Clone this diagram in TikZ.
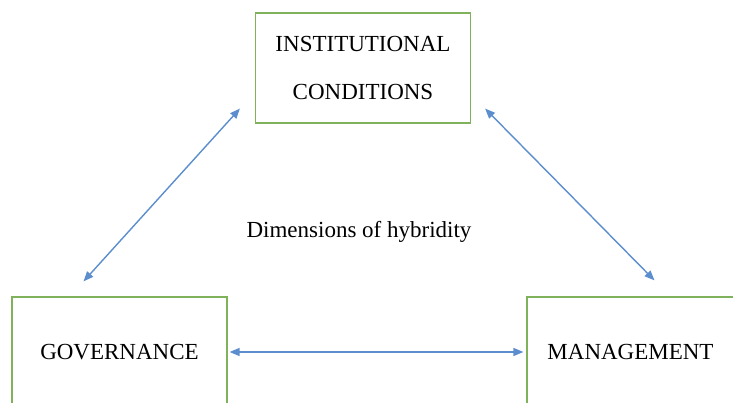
\documentclass[tikz,border=0pt]{standalone}
\usepackage{fontspec}
\setmainfont{Liberation Serif}
\usetikzlibrary{arrows.meta}
\definecolor{boxgreen}{RGB}{128,178,92}
\definecolor{linkblue}{RGB}{92,142,206}
\tikzset{dimbox/.style={draw=boxgreen, line width=1.2pt, minimum width=215pt,
    minimum height=110pt, align=center, inner sep=0pt,
    font=\fontsize{23}{48}\selectfont},
  link/.style={linkblue, line width=1.4pt,
    {Triangle[length=10pt,width=8pt]}-{Triangle[length=10pt,width=8pt]}}}

\begin{document}
\begin{tikzpicture}[x=1pt,y=1pt]

  \clip (0,0) rectangle (733,403);

  \node[dimbox] (inst) at (363,335) {INSTITUTIONAL\\CONDITIONS};
  \node[dimbox] (gov) at (119.5,51) {GOVERNANCE};
  \node[dimbox, minimum width=207pt] (mgmt) at (630.5,51) {MANAGEMENT};

  \node[font=\fontsize{23}{28}\selectfont] (hyb) at (359,171) {Dimensions of hybridity};

  \draw[link] ([xshift=-15pt,yshift=15pt]inst.south west) -- ([xshift=-36pt,yshift=15pt]gov.north);
  \draw[link] ([xshift=14pt,yshift=15pt]inst.south east) -- ([xshift=24pt,yshift=16pt]mgmt.north);
  \draw[link] ([xshift=2pt]gov.east) -- ([xshift=-3pt]mgmt.west);

\end{tikzpicture}
\end{document}
